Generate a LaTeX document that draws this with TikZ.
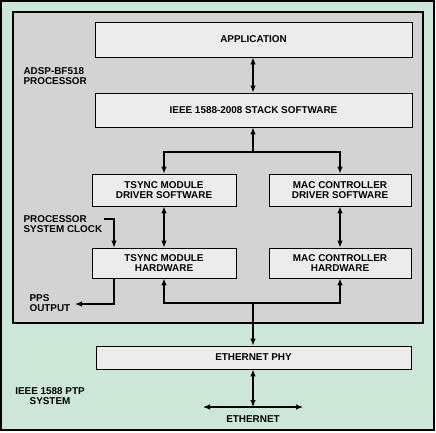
\documentclass[tikz,border=0pt]{standalone}
\usepackage{fontspec}
\setmainfont{Liberation Sans}
\usetikzlibrary{positioning, arrows.meta}
\definecolor{sysgreen}{HTML}{CCE6D8}
\definecolor{procgray}{HTML}{D3D3D3}
\definecolor{boxgray}{HTML}{ECECEC}
\tikzset{
  blk/.style={draw, line width=0.9pt, fill=boxgray, align=center, inner sep=0pt},
  lbl/.style={inner sep=0pt},
}
\begin{document}
\begin{tikzpicture}[x=1pt,y=-1pt,line width=1.1pt,>={Latex[length=7pt,width=5.5pt]},
  font=\bfseries\fontsize{9.9}{10}\selectfont]
  \useasboundingbox (0,0) rectangle (436,432);
  \draw[fill=sysgreen, line width=1.3pt] (1,1) rectangle (434,430);
  \draw[fill=procgray, line width=1.3pt] (13,12) rectangle (423,323);

  \node[blk, minimum width=317, minimum height=35] (app)      at (253.5,39.5) {APPLICATION};
  \node[blk, minimum width=317, minimum height=34] (stack)    at (253.5,110)  {IEEE 1588-2008 STACK SOFTWARE};
  \node[blk, minimum width=144, minimum height=32] (tsyncdrv) at (164,190)    {TSYNC MODULE\\DRIVER SOFTWARE};
  \node[blk, minimum width=142, minimum height=32] (macdrv)   at (340,190)    {MAC CONTROLLER\\DRIVER SOFTWARE};
  \node[blk, minimum width=144, minimum height=30] (tsynchw)  at (164,263)    {TSYNC MODULE\\HARDWARE};
  \node[blk, minimum width=142, minimum height=30] (machw)    at (340,263)    {MAC CONTROLLER\\HARDWARE};
  \node[blk, minimum width=315, minimum height=23] (phy)      at (253.5,357.5) {ETHERNET PHY};

  \node[lbl, anchor=west, align=left]   (cpu) at (23,76)  {ADSP-BF518\\PROCESSOR};
  \node[lbl, anchor=west, align=left]   (clk) at (23,224) {PROCESSOR\\SYSTEM CLOCK};
  \node[lbl, anchor=west, align=left]   (pps) at (29,303) {PPS\\OUTPUT};
  \node[lbl, align=center]              (ptp) at (50,396) {IEEE 1588 PTP\\SYSTEM};
  \node[lbl]                            (eth) at (253,419) {ETHERNET};

  \coordinate (bus1) at (253,152);
  \coordinate (bus2) at (253,303);
  \coordinate (clkin) at (104,219);
  \coordinate (ppsout) at (75,304);
  \coordinate (ethmid) at (253,407);
  \coordinate (ethl) at (203,407);
  \coordinate (ethr) at (303,407);

  \draw[<->] (app.south -| bus1) -- (stack.north -| bus1);
  \draw[->] (bus1) -- (stack.south -| bus1);
  \draw[->] (bus1) -| (tsyncdrv);
  \draw[->] (bus1) -| (macdrv);
  \draw[<->] (tsyncdrv) -- (tsynchw);
  \draw[<->] (macdrv) -- (machw);
  \draw[->] (clkin) -| ([xshift=-50pt]tsynchw.north);
  \draw[->] ([xshift=-50pt]tsynchw.south) |- (ppsout);
  \draw[->] (bus2) -| (tsynchw);
  \draw[->] (bus2) -| (machw);
  \draw[->] (bus2) -- (phy.north -| bus2);
  \draw[<->] (phy.south -| bus2) -- (ethmid);
  \draw[<->] (ethl) -- (ethr);
\end{tikzpicture}
\end{document}
